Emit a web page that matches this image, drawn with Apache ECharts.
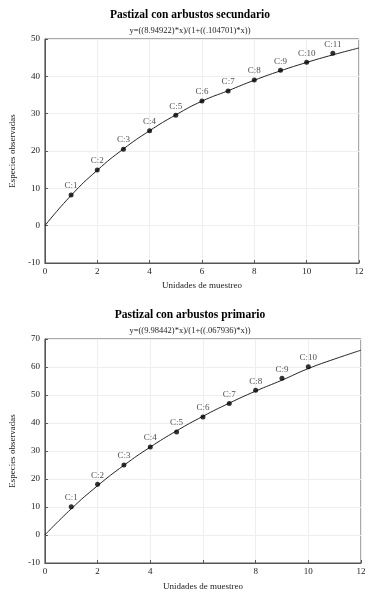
<!DOCTYPE html>
<html><head><meta charset="utf-8">
<script src="https://cdn.jsdelivr.net/npm/echarts@6/dist/echarts.min.js"></script>
<style>html,body{margin:0;padding:0;background:#fff}#c{width:380px;height:600px}</style>
</head><body><div id="c"></div>
<script>
var titles = ['Pastizal con arbustos secundario', 'Pastizal con arbustos primario'];
var formulas = ['y=((8.94922)*x)/(1+((.104701)*x))', 'y=((9.98442)*x)/(1+((.067936)*x))'];
var xLabel = 'Unidades de muestreo';
var yLabel = 'Especies observadas';
var curveX = [0,1,2,3,4,5,6,7,8,9,10,11,12];
var curveTop = [0,8.10,14.84,20.55,25.43,29.67,33.35,36.15,38.96,41.47,43.72,45.75,47.6];
var curveBottom = [0,9.35,17.6,24.9,31.4,37.2,42.4,47.1,51.4,55.3,59.45,62.86,66.0];
var pointsTopX = [1,2,3,4,5,6,7,8,9,10,11];
var pointsTopY = [8.2,14.9,20.5,25.4,29.6,33.4,36.1,39.0,41.6,43.8,46.2];
var pointsBottomX = [1,2,3,4,5,6,7,8,9,10];
var pointsBottomY = [10.1,18.1,25.0,31.4,36.8,42.1,47.0,51.7,56.0,60.1];
var xTicksHiddenBottom = [6];

var font = 'Liberation Serif';
var chart = echarts.init(document.getElementById('c'));
function pairs(xs, ys){ return xs.map(function(x,i){ return [x, ys[i]]; }); }
function ptsWithLabel(xs, ys){ return xs.map(function(x,i){ return {value:[x, ys[i]], name:'C:'+(i+1)}; }); }
function xAxis(idx, hide, gap){
  return {gridIndex: idx, type:'value', min:0, max:12, interval:2,
    name: xLabel, nameLocation:'middle', nameGap: gap,
    nameTextStyle:{fontFamily:font, fontSize:9, color:'#222'},
    axisLine:{show:true, onZero:false, lineStyle:{color:'#555'}},
    axisTick:{show:true, inside:true, length:3, lineStyle:{color:'#555'}},
    axisLabel:{fontFamily:font, fontSize:9, color:'#222', margin:4,
      formatter:function(v){ return hide && hide.indexOf(v)>=0 ? '' : String(v); }},
    splitLine:{show:true, lineStyle:{color:'#eeeeee', width:1}}};
}
function yAxis(idx, min, max){
  return {gridIndex: idx, type:'value', min:min, max:max, interval:10,
    name: yLabel, nameLocation:'middle', nameGap: 21, nameRotate: 90,
    nameTextStyle:{fontFamily:font, fontSize:9, color:'#222'},
    axisLine:{show:true, onZero:false, lineStyle:{color:'#555'}},
    axisTick:{show:true, inside:true, length:3, lineStyle:{color:'#555'}},
    axisLabel:{fontFamily:font, fontSize:9, color:'#222', margin:5},
    splitLine:{show:true, lineStyle:{color:'#eeeeee', width:1}}};
}
function curve(idx, ys){
  return {type:'line', xAxisIndex:idx, yAxisIndex:idx, data:pairs(curveX, ys), smooth:true,
    showSymbol:false, lineStyle:{color:'#222', width:1}, silent:true, z:2};
}
function pts(idx, xs, ys){
  return {type:'scatter', xAxisIndex:idx, yAxisIndex:idx, data:ptsWithLabel(xs, ys),
    symbol:'circle', symbolSize:5, itemStyle:{color:'#000'}, z:3,
    label:{show:true, position:'top', distance:2, formatter:'{b}', fontFamily:font, fontSize:9, color:'#222'}};
}
chart.setOption({
  animation:false,
  title:[
    {text:titles[0], left:'center', top:4, textStyle:{fontFamily:font, fontSize:11.5, fontWeight:'bold', color:'#000'}},
    {text:formulas[0], left:'center', top:21, textStyle:{fontFamily:font, fontSize:8.5, fontWeight:'normal', color:'#222'}},
    {text:titles[1], left:'center', top:304, textStyle:{fontFamily:font, fontSize:11.5, fontWeight:'bold', color:'#000'}},
    {text:formulas[1], left:'center', top:321, textStyle:{fontFamily:font, fontSize:8.5, fontWeight:'normal', color:'#222'}}
  ],
  grid:[
    {left:37, right:21, top:39, height:224, show:true, borderColor:'#555', borderWidth:1},
    {left:38, right:19, top:339, height:224, show:true, borderColor:'#555', borderWidth:1}
  ],
  xAxis:[xAxis(0, null, 18), xAxis(1, xTicksHiddenBottom, 19)],
  yAxis:[yAxis(0, -10, 50), yAxis(1, -10, 70)],
  series:[curve(0, curveTop), pts(0, pointsTopX, pointsTopY), curve(1, curveBottom), pts(1, pointsBottomX, pointsBottomY)]
});
</script></body></html>
